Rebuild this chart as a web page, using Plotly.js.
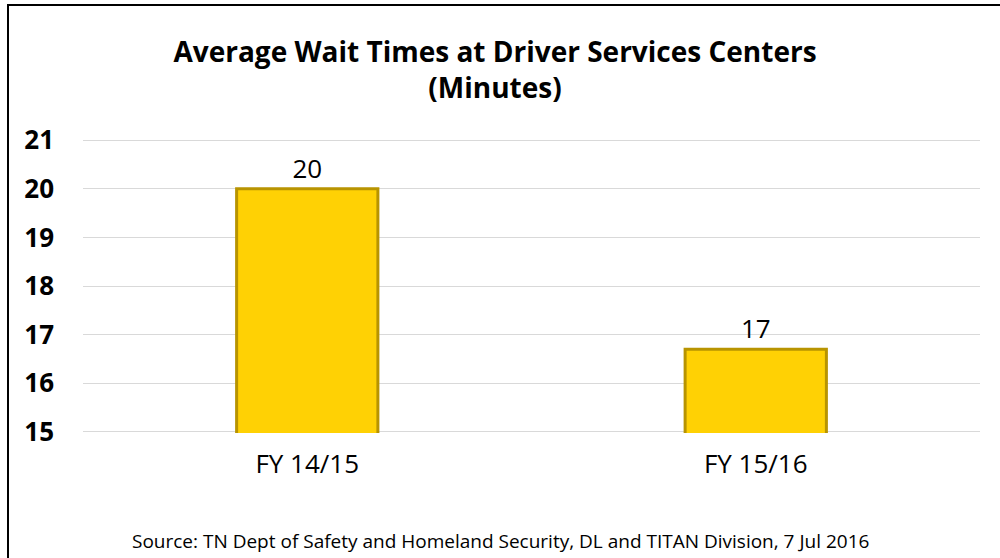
<!DOCTYPE html>
<html>
<head>
<meta charset="utf-8">
<script src="https://cdn.plot.ly/plotly-3.0.1.min.js"></script>
<style>
  body { margin: 0; background: #fff; }
  #wrap { position: relative; width: 1000px; height: 558px; }
  #chart { position: absolute; left: 0; top: 0; width: 1000px; height: 558px; }
  .edge { position: absolute; background: #000; pointer-events: none; }
</style>
</head>
<body>
<div id="wrap">
  <div id="chart"></div>
  <!-- frame lines, only top and left are visible in the source image -->
  <div class="edge" style="left:7px; top:4px; width:993px; height:2px;"></div>
  <div class="edge" style="left:7px; top:4px; width:2px; height:554px;"></div>
</div>
<script>
// Wait times in minutes by fiscal year
const years = ['FY 14/15', 'FY 15/16'];
const waitMinutes = [20, 16.7];
const yTicks = [15, 16, 17, 18, 19, 20, 21];

const font = 'Open Sans, sans-serif';

const bars = {
    x: years,
    y: waitMinutes,
    type: 'bar',
    marker: {
        color: '#FFD104',
        line: { color: '#B89400', width: 3 }
    },
    texttemplate: '%{y:.0f}',
    textposition: 'outside',
    cliponaxis: false,
    textfont: { family: font, size: 26, color: '#000' },
    hoverinfo: 'skip'
};

const layout = {
    width: 1000,
    height: 558,
    margin: { l: 83, r: 20, t: 139, b: 125 },
    paper_bgcolor: '#fff',
    plot_bgcolor: '#fff',
    showlegend: false,
    bargap: 0.685,
    title: {
        text: '<b>Average Wait Times at Driver Services Centers<br>(Minutes)</b>',
        font: { family: font, size: 28, color: '#000' },
        x: 0.495,
        xanchor: 'center',
        y: 0.889,
        yref: 'container',
        yanchor: 'middle'
    },
    xaxis: {
        showline: false,
        ticks: '',
        ticklabelstandoff: 13,
        tickfont: { family: font, size: 26, color: '#000' }
    },
    yaxis: {
        range: [14.975, 21.025],
        tickvals: yTicks,
        ticktext: yTicks.map(v => '<b>' + v + '</b>'),
        showgrid: true,
        gridcolor: '#d9d9d9',
        gridwidth: 1,
        zeroline: false,
        showline: false,
        ticks: '',
        ticklabelstandoff: 28,
        tickfont: { family: font, size: 26, color: '#000' }
    },
    annotations: [{
        text: 'Source: TN Dept of Safety and Homeland Security, DL and TITAN Division, 7 Jul 2016',
        xref: 'paper', yref: 'paper',
        x: 0.465, y: -0.368,
        xanchor: 'center', yanchor: 'middle',
        showarrow: false,
        font: { family: font, size: 19, color: '#000' }
    }]
};

Plotly.newPlot('chart', [bars], layout, { displayModeBar: false, staticPlot: true });
</script>
</body>
</html>
